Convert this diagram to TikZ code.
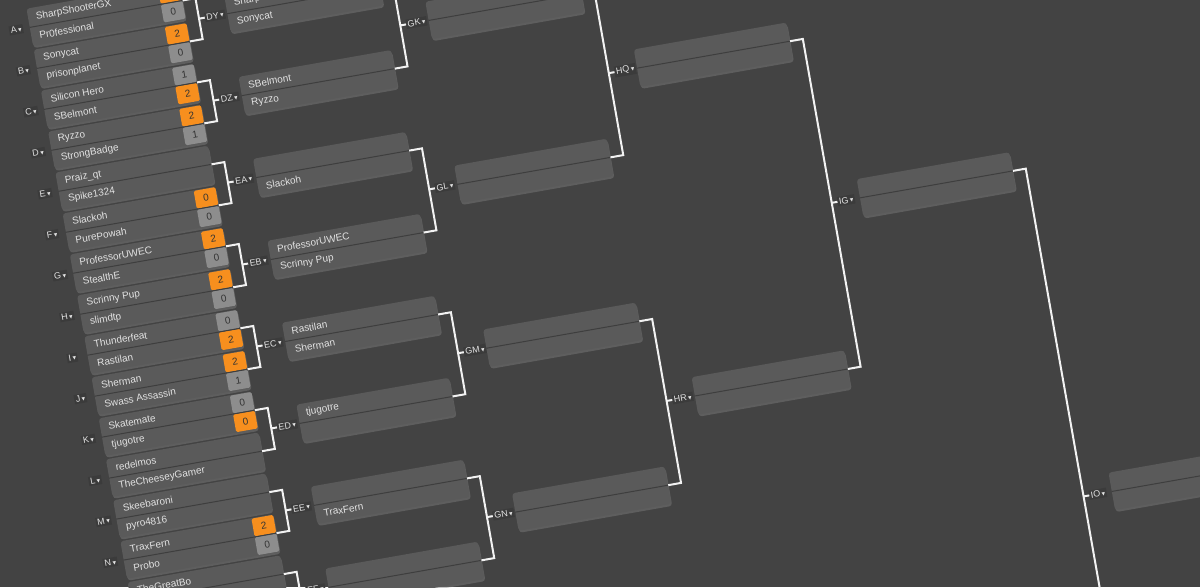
\documentclass[tikz,border=0pt]{standalone}
\usepackage{fontspec}
\setmainfont{Liberation Sans}
\newfontfamily\symfont{DejaVu Sans}
\usetikzlibrary{shadows}

\definecolor{bg}{HTML}{434343}
\definecolor{boxgray}{HTML}{5A5A5A}
\definecolor{rowline}{HTML}{3E3E3E}
\definecolor{namegray}{HTML}{E2E2E2}
\definecolor{scoregray}{HTML}{8D8D8D}
\definecolor{winorange}{HTML}{F78F1E}
\definecolor{labelbg}{HTML}{3B3B3B}
\newcommand{\droptri}{{\symfont\fontsize{7}{7}\selectfont ▾}}

\begin{document}
\begin{tikzpicture}[x=1pt, y=-1pt,
  match/.style={rectangle, rounded corners=3pt, fill=boxgray, minimum width=155pt, minimum height=38pt, inner sep=0pt,
    drop shadow={shadow xshift=1pt, shadow yshift=-2pt, opacity=0.45}},
  pname/.style={anchor=west, inner sep=0pt, text=namegray, font=\fontsize{10}{12}\selectfont},
  win/.style={rectangle, rounded corners=1.5pt, fill=winorange, minimum width=22pt, minimum height=18pt, inner sep=0pt,
    text=black!80, font=\fontsize{10}{12}\selectfont},
  lose/.style={win, fill=scoregray},
  rlabel/.style={anchor=west, fill=labelbg, inner sep=1.5pt, text=namegray, font=\fontsize{9}{10}\selectfont},
  divider/.style={draw=rowline, line width=1pt},
  bracket/.style={draw=white!95!black, line width=2pt}]
\useasboundingbox (-15,-30) rectangle (1185,557);
\fill[bg] (-15,-30) rectangle (1185,557);
\clip (-15,-30) rectangle (1185,557);

\begin{scope}[rotate=10, transform shape]
% round 1
\node[rlabel] (lA) at (-6,0) {A\,\droptri};
\node[match] (A) at (92.5,0) {};
\node[win] (sA1) at (159,-9.5) {2};
\node[lose] (sA2) at (159,9.5) {0};
\draw[divider] (A.west) -- (A.east);
\node[pname] (A1) at (23,-9.5) {SharpShooterGX};
\node[pname] (A2) at (23,9.5) {Pr0fessional};

\node[rlabel] (lB) at (-6,41.6) {B\,\droptri};
\node[match] (B) at (92.5,41.6) {};
\node[win] (sB1) at (159,32.1) {2};
\node[lose] (sB2) at (159,51.1) {0};
\draw[divider] (B.west) -- (B.east);
\node[pname] (B1) at (23,32.1) {Sonycat};
\node[pname] (B2) at (23,51.1) {prisonplanet};

\node[rlabel] (lC) at (-6,83.2) {C\,\droptri};
\node[match] (C) at (92.5,83.2) {};
\node[lose] (sC1) at (159,73.7) {1};
\node[win] (sC2) at (159,92.7) {2};
\draw[divider] (C.west) -- (C.east);
\node[pname] (C1) at (23,73.7) {Silicon Hero};
\node[pname] (C2) at (23,92.7) {SBelmont};

\node[rlabel] (lD) at (-6,124.8) {D\,\droptri};
\node[match] (D) at (92.5,124.8) {};
\node[win] (sD1) at (159,115.3) {2};
\node[lose] (sD2) at (159,134.3) {1};
\draw[divider] (D.west) -- (D.east);
\node[pname] (D1) at (23,115.3) {Ryzzo};
\node[pname] (D2) at (23,134.3) {StrongBadge};

\node[rlabel] (lE) at (-6,166.4) {E\,\droptri};
\node[match] (E) at (92.5,166.4) {};
\draw[divider] (E.west) -- (E.east);
\node[pname] (E1) at (23,156.9) {Praiz\_qt};
\node[pname] (E2) at (23,175.9) {Spike1324};

\node[rlabel] (lF) at (-6,208) {F\,\droptri};
\node[match] (F) at (92.5,208) {};
\node[win] (sF1) at (159,198.5) {0};
\node[lose] (sF2) at (159,217.5) {0};
\draw[divider] (F.west) -- (F.east);
\node[pname] (F1) at (23,198.5) {Slackoh};
\node[pname] (F2) at (23,217.5) {PurePowah};

\node[rlabel] (lG) at (-6,249.6) {G\,\droptri};
\node[match] (G) at (92.5,249.6) {};
\node[win] (sG1) at (159,240.1) {2};
\node[lose] (sG2) at (159,259.1) {0};
\draw[divider] (G.west) -- (G.east);
\node[pname] (G1) at (23,240.1) {ProfessorUWEC};
\node[pname] (G2) at (23,259.1) {StealthE};

\node[rlabel] (lH) at (-6,291.2) {H\,\droptri};
\node[match] (H) at (92.5,291.2) {};
\node[win] (sH1) at (159,281.7) {2};
\node[lose] (sH2) at (159,300.7) {0};
\draw[divider] (H.west) -- (H.east);
\node[pname] (H1) at (23,281.7) {Scrinny Pup};
\node[pname] (H2) at (23,300.7) {slimdtp};

\node[rlabel] (lI) at (-6,332.8) {I\,\droptri};
\node[match] (I) at (92.5,332.8) {};
\node[lose] (sI1) at (159,323.3) {0};
\node[win] (sI2) at (159,342.3) {2};
\draw[divider] (I.west) -- (I.east);
\node[pname] (I1) at (23,323.3) {Thunderfeat};
\node[pname] (I2) at (23,342.3) {Rastilan};

\node[rlabel] (lJ) at (-6,374.4) {J\,\droptri};
\node[match] (J) at (92.5,374.4) {};
\node[win] (sJ1) at (159,364.9) {2};
\node[lose] (sJ2) at (159,383.9) {1};
\draw[divider] (J.west) -- (J.east);
\node[pname] (J1) at (23,364.9) {Sherman};
\node[pname] (J2) at (23,383.9) {Swass Assassin};

\node[rlabel] (lK) at (-6,416) {K\,\droptri};
\node[match] (K) at (92.5,416) {};
\node[lose] (sK1) at (159,406.5) {0};
\node[win] (sK2) at (159,425.5) {0};
\draw[divider] (K.west) -- (K.east);
\node[pname] (K1) at (23,406.5) {Skatemate};
\node[pname] (K2) at (23,425.5) {tjugotre};

\node[rlabel] (lL) at (-6,457.6) {L\,\droptri};
\node[match] (L) at (92.5,457.6) {};
\draw[divider] (L.west) -- (L.east);
\node[pname] (L1) at (23,448.1) {redelmos};
\node[pname] (L2) at (23,467.1) {TheCheeseyGamer};

\node[rlabel] (lM) at (-6,499.2) {M\,\droptri};
\node[match] (M) at (92.5,499.2) {};
\draw[divider] (M.west) -- (M.east);
\node[pname] (M1) at (23,489.7) {Skeebaroni};
\node[pname] (M2) at (23,508.7) {pyro4816};

\node[rlabel] (lN) at (-6,540.8) {N\,\droptri};
\node[match] (N) at (92.5,540.8) {};
\node[win] (sN1) at (159,531.3) {2};
\node[lose] (sN2) at (159,550.3) {0};
\draw[divider] (N.west) -- (N.east);
\node[pname] (N1) at (23,531.3) {TraxFern};
\node[pname] (N2) at (23,550.3) {Probo};

\node[match] (O) at (92.5,582.4) {};
\draw[divider] (O.west) -- (O.east);
\node[pname] (O1) at (23,572.9) {TheGreatBo};

% round 2
\node[rlabel] (lDY) at (189,20.8) {DY\,\droptri};
\node[match] (DY) at (289.5,20.8) {};
\draw[divider] (DY.west) -- (DY.east);
\node[pname] (DY1) at (220,11.3) {SharpShooterGX};
\node[pname] (DY2) at (220,30.3) {Sonycat};

\node[rlabel] (lDZ) at (189,104) {DZ\,\droptri};
\node[match] (DZ) at (289.5,104) {};
\draw[divider] (DZ.west) -- (DZ.east);
\node[pname] (DZ1) at (220,94.5) {SBelmont};
\node[pname] (DZ2) at (220,113.5) {Ryzzo};

\node[rlabel] (lEA) at (189,187.2) {EA\,\droptri};
\node[match] (EA) at (289.5,187.2) {};
\draw[divider] (EA.west) -- (EA.east);
\node[pname] (EA2) at (220,196.7) {Slackoh};

\node[rlabel] (lEB) at (189,270.4) {EB\,\droptri};
\node[match] (EB) at (289.5,270.4) {};
\draw[divider] (EB.west) -- (EB.east);
\node[pname] (EB1) at (220,260.9) {ProfessorUWEC};
\node[pname] (EB2) at (220,279.9) {Scrinny Pup};

\node[rlabel] (lEC) at (189,353.6) {EC\,\droptri};
\node[match] (EC) at (289.5,353.6) {};
\draw[divider] (EC.west) -- (EC.east);
\node[pname] (EC1) at (220,344.1) {Rastilan};
\node[pname] (EC2) at (220,363.1) {Sherman};

\node[rlabel] (lED) at (189,436.8) {ED\,\droptri};
\node[match] (ED) at (289.5,436.8) {};
\draw[divider] (ED.west) -- (ED.east);
\node[pname] (ED1) at (220,427.3) {tjugotre};

\node[rlabel] (lEE) at (189,520) {EE\,\droptri};
\node[match] (EE) at (289.5,520) {};
\draw[divider] (EE.west) -- (EE.east);
\node[pname] (EE2) at (220,529.5) {TraxFern};

\node[rlabel] (lEF) at (189,603.2) {EF\,\droptri};
\node[match] (EF) at (289.5,603.2) {};
\draw[divider] (EF.west) -- (EF.east);

% round 3
\node[rlabel] (lGK) at (386,62.4) {GK\,\droptri};
\node[match] (GK) at (486.5,62.4) {};
\draw[divider] (GK.west) -- (GK.east);
\node[rlabel] (lGL) at (386,228.8) {GL\,\droptri};
\node[match] (GL) at (486.5,228.8) {};
\draw[divider] (GL.west) -- (GL.east);
\node[rlabel] (lGM) at (386,395.2) {GM\,\droptri};
\node[match] (GM) at (486.5,395.2) {};
\draw[divider] (GM.west) -- (GM.east);
\node[rlabel] (lGN) at (386,561.6) {GN\,\droptri};
\node[match] (GN) at (486.5,561.6) {};
\draw[divider] (GN.west) -- (GN.east);

% round 4, 5, 6
\node[rlabel] (lHQ) at (583,145.6) {HQ\,\droptri};
\node[match] (HQ) at (683.5,145.6) {};
\draw[divider] (HQ.west) -- (HQ.east);
\node[rlabel] (lHR) at (583,478.4) {HR\,\droptri};
\node[match] (HR) at (683.5,478.4) {};
\draw[divider] (HR.west) -- (HR.east);
\node[rlabel] (lIG) at (780,312) {IG\,\droptri};
\node[match] (IG) at (880.5,312) {};
\draw[divider] (IG.west) -- (IG.east);
\node[rlabel] (lIO) at (977,644.8) {IO\,\droptri};
\node[match] (IO) at (1077.5,644.8) {};
\draw[divider] (IO.west) -- (IO.east);

% brackets
\draw[bracket] (A.east) -- ++(13,0) -- ++(0,41.6) -- (B.east);
\draw[bracket] (A.east) ++(13,20.8) -- (lDY.west);
\draw[bracket] (C.east) -- ++(13,0) -- ++(0,41.6) -- (D.east);
\draw[bracket] (C.east) ++(13,20.8) -- (lDZ.west);
\draw[bracket] (E.east) -- ++(13,0) -- ++(0,41.6) -- (F.east);
\draw[bracket] (E.east) ++(13,20.8) -- (lEA.west);
\draw[bracket] (G.east) -- ++(13,0) -- ++(0,41.6) -- (H.east);
\draw[bracket] (G.east) ++(13,20.8) -- (lEB.west);
\draw[bracket] (I.east) -- ++(13,0) -- ++(0,41.6) -- (J.east);
\draw[bracket] (I.east) ++(13,20.8) -- (lEC.west);
\draw[bracket] (K.east) -- ++(13,0) -- ++(0,41.6) -- (L.east);
\draw[bracket] (K.east) ++(13,20.8) -- (lED.west);
\draw[bracket] (M.east) -- ++(13,0) -- ++(0,41.6) -- (N.east);
\draw[bracket] (M.east) ++(13,20.8) -- (lEE.west);
\draw[bracket] (O.east) -- ++(13,0) -- ++(0,41.6);
\draw[bracket] (O.east) ++(13,20.8) -- (lEF.west);

\draw[bracket] (DY.east) -- ++(13,0) -- ++(0,83.2) -- (DZ.east);
\draw[bracket] (DY.east) ++(13,41.6) -- (lGK.west);
\draw[bracket] (EA.east) -- ++(13,0) -- ++(0,83.2) -- (EB.east);
\draw[bracket] (EA.east) ++(13,41.6) -- (lGL.west);
\draw[bracket] (EC.east) -- ++(13,0) -- ++(0,83.2) -- (ED.east);
\draw[bracket] (EC.east) ++(13,41.6) -- (lGM.west);
\draw[bracket] (EE.east) -- ++(13,0) -- ++(0,83.2) -- (EF.east);
\draw[bracket] (EE.east) ++(13,41.6) -- (lGN.west);

\draw[bracket] (GK.east) -- ++(13,0) -- ++(0,166.4) -- (GL.east);
\draw[bracket] (GK.east) ++(13,83.2) -- (lHQ.west);
\draw[bracket] (GM.east) -- ++(13,0) -- ++(0,166.4) -- (GN.east);
\draw[bracket] (GM.east) ++(13,83.2) -- (lHR.west);

\draw[bracket] (HQ.east) -- ++(13,0) -- ++(0,332.8) -- (HR.east);
\draw[bracket] (HQ.east) ++(13,166.4) -- (lIG.west);

\draw[bracket] (IG.east) -- ++(13,0) -- ++(0,665.6);
\draw[bracket] (IG.east) ++(13,332.8) -- (lIO.west);
\end{scope}
\end{tikzpicture}
\end{document}
